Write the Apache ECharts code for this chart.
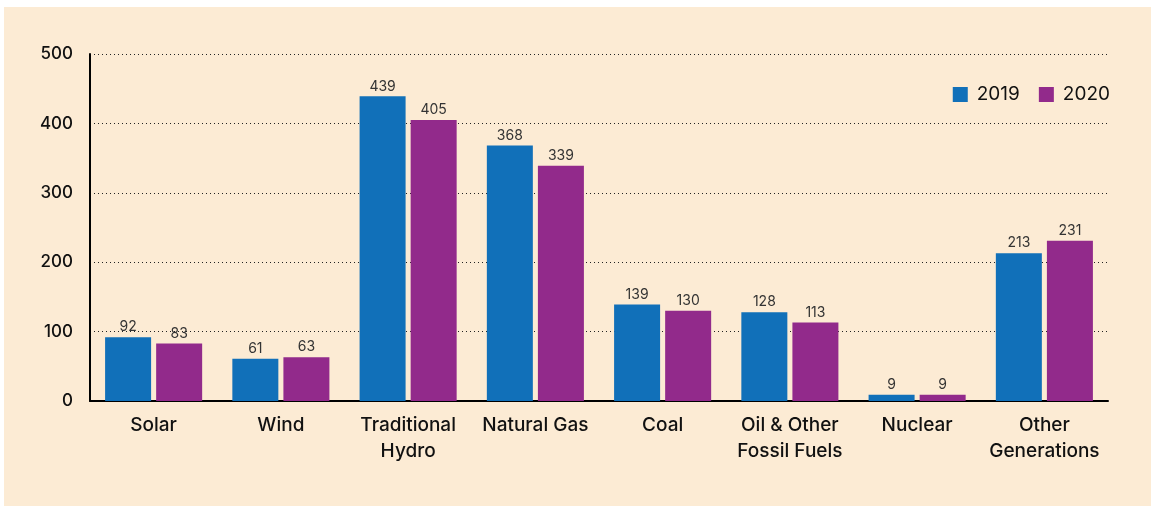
<!DOCTYPE html>
<html>
<head>
<meta charset="utf-8">
<script src="https://cdn.jsdelivr.net/npm/echarts@6/dist/echarts.min.js"></script>
<style>
  html, body { margin: 0; padding: 0; background: #fff; }
  #chart { position: absolute; left: 4px; top: 7px; width: 1147px; height: 499px; }
</style>
</head>
<body>
<div id="chart"></div>
<script>
var categories = ["Solar", "Wind", "Traditional\nHydro", "Natural Gas", "Coal", "Oil & Other\nFossil Fuels", "Nuclear", "Other\nGenerations"];
var values2019 = [92, 61, 439, 368, 139, 128, 9, 213];
var values2020 = [83, 63, 405, 339, 130, 113, 9, 231];
var yTicks = [0, 100, 200, 300, 400, 500];

var chart = echarts.init(document.getElementById("chart"));
var font = "Inter, 'Open Sans', sans-serif";
var barLabel = {
    show: true,
    position: "top",
    distance: 3,
    color: "#333",
    fontSize: 14,
    fontFamily: font
};

chart.setOption({
    backgroundColor: "#fcebd4",
    animation: false,
    textStyle: { fontFamily: font },
    legend: {
        right: 36,
        top: 73,
        itemWidth: 15,
        itemHeight: 15,
        itemGap: 19,
        icon: "rect",
        textStyle: { fontSize: 19, color: "#111", fontFamily: font, padding: [0, 0, 0, 4] },
        data: ["2019", "2020"]
    },
    grid: { left: 86, right: 43, top: 47, bottom: 105 },
    xAxis: {
        type: "category",
        data: categories,
        axisLine: { lineStyle: { color: "#000", width: 2 } },
        axisTick: { show: false },
        axisLabel: {
            interval: 0,
            hideOverlap: false,
            color: "#111",
            fontSize: 19,
            fontWeight: 500,
            lineHeight: 26,
            margin: 11,
            fontFamily: font
        }
    },
    yAxis: {
        type: "value",
        min: yTicks[0],
        max: yTicks[yTicks.length - 1],
        interval: 100,
        axisLine: { show: true, lineStyle: { color: "#000", width: 2 } },
        axisTick: { show: false },
        axisLabel: { color: "#111", fontSize: 17, fontWeight: 500, margin: 17, fontFamily: font },
        splitLine: { lineStyle: { color: "#222", type: [1, 3], width: 1 } }
    },
    series: [{
        name: "2019",
        type: "bar",
        data: values2019,
        barWidth: 46,
        barGap: "11%",
        itemStyle: { color: "#1170b9" },
        label: barLabel
    }, {
        name: "2020",
        type: "bar",
        data: values2020,
        barWidth: 46,
        itemStyle: { color: "#922a8b" },
        label: barLabel
    }]
});
</script>
</body>
</html>
